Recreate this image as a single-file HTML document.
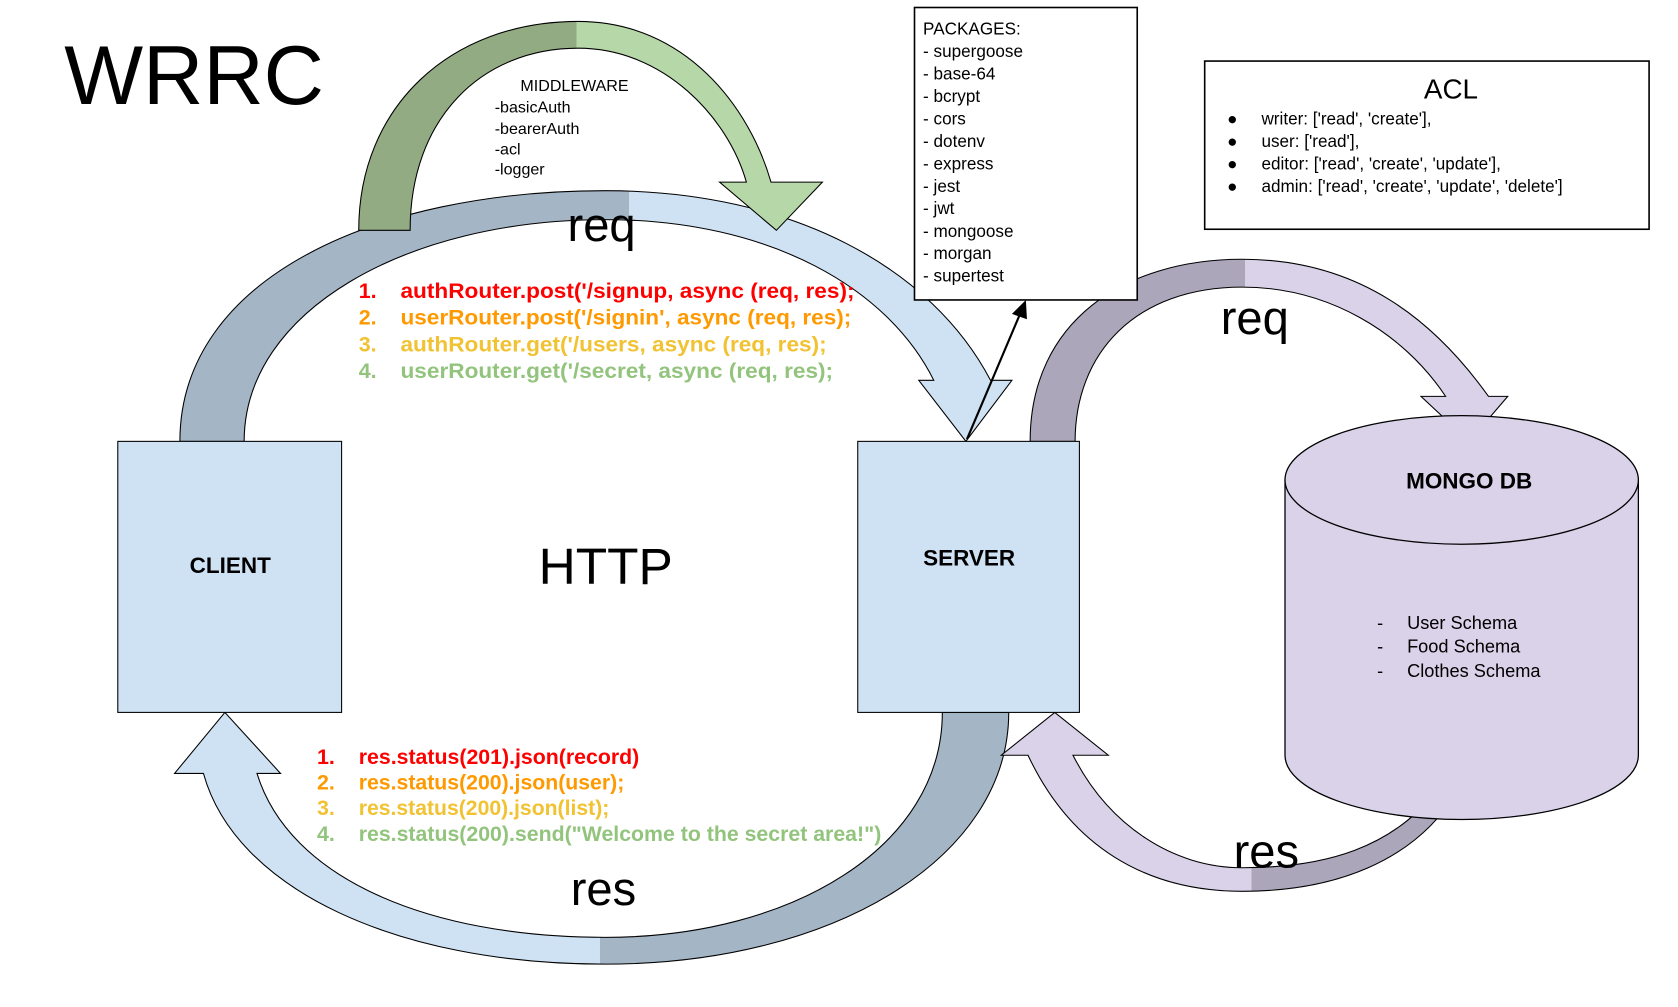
<!DOCTYPE html>
<html><head><meta charset="utf-8"><style>
html,body{margin:0;padding:0;background:#fff}
svg{display:block}
text{font-family:"Liberation Sans",Arial,sans-serif}
</style></head><body>
<svg width="1678" height="1007" viewBox="0 0 1567 940" preserveAspectRatio="none" xmlns="http://www.w3.org/2000/svg">
<defs>
<linearGradient id="gTop" gradientUnits="userSpaceOnUse" x1="168" y1="0" x2="945" y2="0">
<stop offset="0" stop-color="#a4b5c6"/><stop offset="0.54" stop-color="#a4b5c6"/><stop offset="0.54" stop-color="#cfe2f3"/><stop offset="1" stop-color="#cfe2f3"/></linearGradient>
<linearGradient id="gBot" gradientUnits="userSpaceOnUse" x1="163" y1="0" x2="942" y2="0">
<stop offset="0" stop-color="#cfe2f3"/><stop offset="0.51" stop-color="#cfe2f3"/><stop offset="0.51" stop-color="#a4b5c6"/><stop offset="1" stop-color="#a4b5c6"/></linearGradient>
<linearGradient id="gMid" gradientUnits="userSpaceOnUse" x1="335" y1="0" x2="768" y2="0">
<stop offset="0" stop-color="#93ab83"/><stop offset="0.47" stop-color="#93ab83"/><stop offset="0.47" stop-color="#b6d7a8"/><stop offset="1" stop-color="#b6d7a8"/></linearGradient>
<linearGradient id="gRTop" gradientUnits="userSpaceOnUse" x1="962" y1="0" x2="1408" y2="0">
<stop offset="0" stop-color="#aba6ba"/><stop offset="0.45" stop-color="#aba6ba"/><stop offset="0.45" stop-color="#d9d2e9"/><stop offset="1" stop-color="#d9d2e9"/></linearGradient>
<linearGradient id="gRBot" gradientUnits="userSpaceOnUse" x1="935" y1="0" x2="1360" y2="0">
<stop offset="0" stop-color="#d9d2e9"/><stop offset="0.55" stop-color="#d9d2e9"/><stop offset="0.55" stop-color="#aba6ba"/><stop offset="1" stop-color="#aba6ba"/></linearGradient>
</defs>

<path d="M168,412 C168,260 350,178 565,178 C740,178 870,250 925,355 L945,355 L902,412 L858,355 L872,355 C830,270 720,205 565,205 C380,205 228,290 228,412 Z" fill="url(#gTop)" stroke="#000" stroke-width="1"/>
<path d="M335,215 C335,100 420,20 540,20 C640,20 700,100 720,170 L768,170 L725,215 L672,170 L697,170 C680,110 620,45 540,45 C450,45 383,110 383,215 Z" fill="url(#gMid)" stroke="#000" stroke-width="1"/>
<path d="M942,665 C942,800 780,900 565,900 C370,900 220,830 190,722 L163,722 L210,665 L262,722 L240,722 C270,820 400,875 565,875 C740,875 880,790 880,665 Z" fill="url(#gBot)" stroke="#000" stroke-width="1"/>
<path d="M962,412 C962,300 1050,242 1160,242 C1270,242 1340,300 1390,370 L1408,370 L1372,412 L1327,370 L1350,370 C1310,310 1240,268 1160,268 C1060,268 1004,330 1004,412 Z" fill="url(#gRTop)" stroke="#000" stroke-width="1"/>
<path d="M1360,740 C1320,805 1245,832 1160,832 C1070,832 1000,790 960,705 L935,705 L985,665 L1035,705 L1002,705 C1035,770 1095,810 1160,810 C1240,810 1300,790 1340,740 Z" fill="url(#gRBot)" stroke="#000" stroke-width="1"/>

<path d="M1200,448 L1200,705 A165,60 0 0 0 1530,705 L1530,448 Z" fill="#d9d2e9" stroke="#000" stroke-width="1.2"/>
<ellipse cx="1365" cy="448" rx="165" ry="60" fill="#d9d2e9" stroke="#000" stroke-width="1.2"/>

<rect x="110" y="412" width="209" height="253" fill="#cfe2f3" stroke="#000" stroke-width="1"/>
<rect x="801" y="412" width="207" height="253" fill="#cfe2f3" stroke="#000" stroke-width="1"/>
<rect x="854" y="7" width="208" height="273" fill="#fff" stroke="#000" stroke-width="1.5"/>
<rect x="1125" y="57" width="415" height="157" fill="#fff" stroke="#000" stroke-width="1.5"/>

<line x1="903" y1="410" x2="953" y2="292" stroke="#000" stroke-width="2"/>
<polygon points="958,280 945,293 959,298" fill="#000"/>

<text x="60" y="97" font-size="78">WRRC</text>
<text x="503" y="545" font-size="48">HTTP</text>
<text x="530" y="225" font-size="44">req</text>
<text x="533" y="845" font-size="44">res</text>
<text x="1140" y="312" font-size="44">req</text>
<text x="1152" y="810" font-size="44">res</text>
<text x="215" y="535" font-size="21" font-weight="bold" text-anchor="middle">CLIENT</text>
<text x="905" y="528" font-size="21" font-weight="bold" text-anchor="middle">SERVER</text>
<text x="1372" y="456" font-size="21" font-weight="bold" text-anchor="middle">MONGO DB</text>

<g font-size="15">
<text x="486" y="85">MIDDLEWARE</text>
<text x="462" y="105">-basicAuth</text>
<text x="462" y="125">-bearerAuth</text>
<text x="462" y="144">-acl</text>
<text x="462" y="163">-logger</text>
</g>

<g font-size="20" font-weight="bold">
<text x="335" y="278" fill="#ff0000">1.</text><text x="374" y="278" fill="#ff0000" textLength="424" lengthAdjust="spacingAndGlyphs">authRouter.post('/signup, async (req, res);</text>
<text x="335" y="303" fill="#ff9900">2.</text><text x="374" y="303" fill="#ff9900" textLength="421" lengthAdjust="spacingAndGlyphs">userRouter.post('/signin', async (req, res);</text>
<text x="335" y="328" fill="#f1c232">3.</text><text x="374" y="328" fill="#f1c232" textLength="398" lengthAdjust="spacingAndGlyphs">authRouter.get('/users, async (req, res);</text>
<text x="335" y="353" fill="#93c47d">4.</text><text x="374" y="353" fill="#93c47d" textLength="404" lengthAdjust="spacingAndGlyphs">userRouter.get('/secret, async (req, res);</text>
<text x="296" y="713" fill="#ff0000">1.</text><text x="335" y="713" fill="#ff0000" textLength="262" lengthAdjust="spacingAndGlyphs">res.status(201).json(record)</text>
<text x="296" y="737" fill="#ff9900">2.</text><text x="335" y="737" fill="#ff9900" textLength="248" lengthAdjust="spacingAndGlyphs">res.status(200).json(user);</text>
<text x="296" y="761" fill="#f1c232">3.</text><text x="335" y="761" fill="#f1c232" textLength="234" lengthAdjust="spacingAndGlyphs">res.status(200).json(list);</text>
<text x="296" y="785" fill="#93c47d">4.</text><text x="335" y="785" fill="#93c47d" textLength="488" lengthAdjust="spacingAndGlyphs">res.status(200).send("Welcome to the secret area!")</text>
</g>

<g font-size="16">
<text x="862" y="32">PACKAGES:</text>
<text x="862" y="53">- supergoose</text>
<text x="862" y="74">- base-64</text>
<text x="862" y="95">- bcrypt</text>
<text x="862" y="116">- cors</text>
<text x="862" y="137">- dotenv</text>
<text x="862" y="158">- express</text>
<text x="862" y="179">- jest</text>
<text x="862" y="200">- jwt</text>
<text x="862" y="221">- mongoose</text>
<text x="862" y="242">- morgan</text>
<text x="862" y="263">- supertest</text>
</g>

<text x="1355" y="92" font-size="26" text-anchor="middle">ACL</text>
<g font-size="16">
<text x="1146" y="116">●</text><text x="1178" y="116">writer: ['read', 'create'],</text>
<text x="1146" y="137">●</text><text x="1178" y="137">user: ['read'],</text>
<text x="1146" y="158">●</text><text x="1178" y="158">editor: ['read', 'create', 'update'],</text>
<text x="1146" y="179">●</text><text x="1178" y="179">admin: ['read', 'create', 'update', 'delete']</text>
</g>

<g font-size="17">
<text x="1286" y="587">-</text><text x="1314" y="587">User Schema</text>
<text x="1286" y="609">-</text><text x="1314" y="609">Food Schema</text>
<text x="1286" y="632">-</text><text x="1314" y="632">Clothes Schema</text>
</g>
</svg>
</body></html>
